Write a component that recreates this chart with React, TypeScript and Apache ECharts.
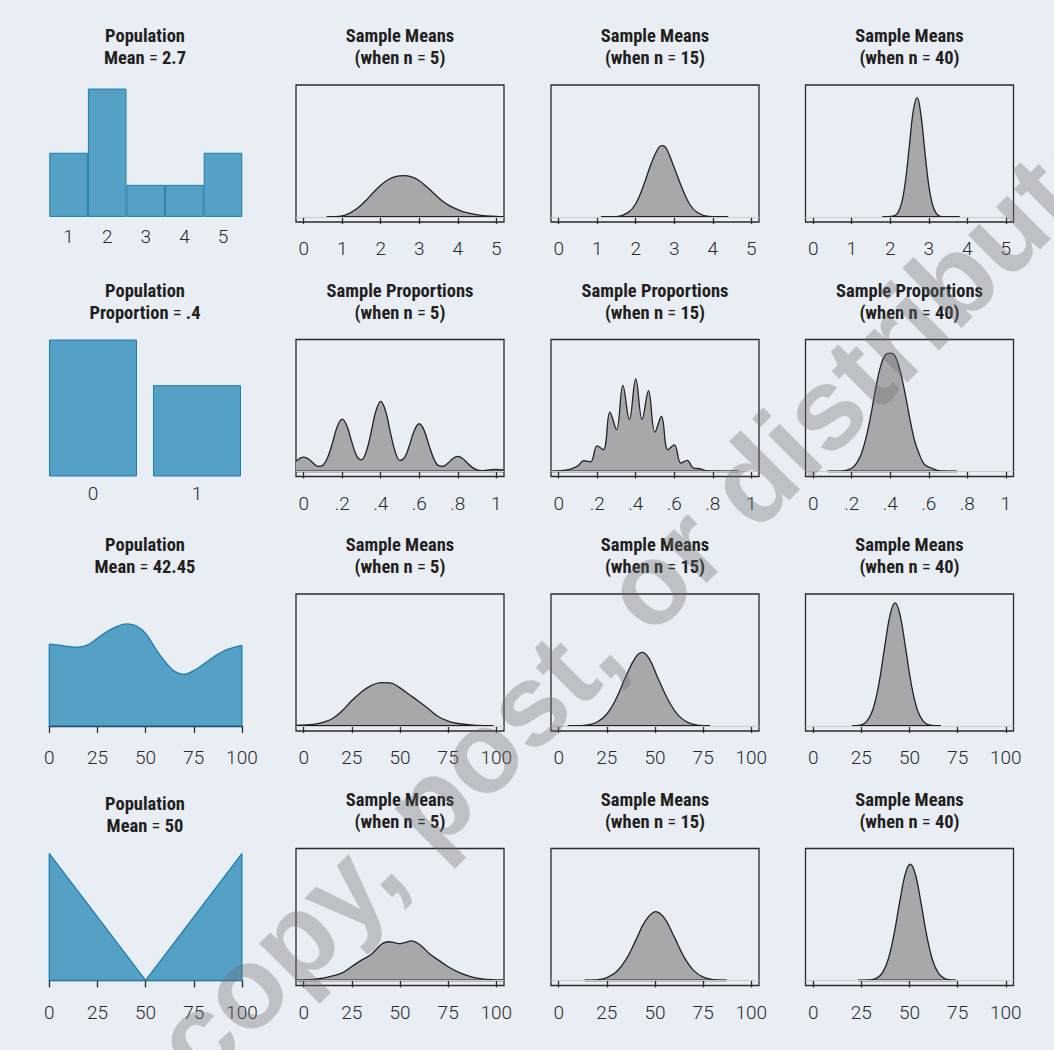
import React, { useEffect, useRef } from 'react';
import * as echarts from 'echarts';

const W = 1054;
const H = 1050;

// ---------- Column 1: populations ----------
const popBarsCats = ['1', '2', '3', '4', '5'];
const popBarsProb = [0.2, 0.4, 0.1, 0.1, 0.2];

const popPropCats = ['0', '1'];
const popPropProb = [0.6, 0.4];

const pop3X = [0, 5, 10, 15, 20, 25, 30, 35, 40, 45, 50, 55, 60, 65, 70, 75, 80, 85, 90, 95, 100];
const pop3Y = [0.644, 0.637, 0.626, 0.621, 0.639, 0.691, 0.744, 0.783, 0.804, 0.79, 0.73, 0.613, 0.509, 0.43, 0.407, 0.436, 0.485, 0.54, 0.587, 0.616, 0.634];

const pop4X = [0, 50, 100];
const pop4Y = [1, 0, 1];

// ---------- Row 1: sample means, population 1..5 ----------
const means1X5 = [0.6, 1.0, 1.2, 1.4, 1.6, 1.8, 2.0, 2.2, 2.4, 2.6, 2.8, 3.0, 3.2, 3.4, 3.6, 3.8, 4.0, 4.2, 4.6, 5.0, 5.2];
const means1Y5 = [0, 0.008, 0.03, 0.07, 0.125, 0.19, 0.25, 0.295, 0.32, 0.325, 0.315, 0.285, 0.235, 0.18, 0.125, 0.085, 0.058, 0.036, 0.012, 0.004, 0.002];
const means1X15 = [1.1, 1.5, 1.8, 2.0, 2.2, 2.4, 2.6, 2.7, 2.8, 3.0, 3.2, 3.4, 3.6, 3.9, 4.4];
const means1Y15 = [0, 0.003, 0.034, 0.104, 0.245, 0.42, 0.548, 0.562, 0.537, 0.388, 0.23, 0.1, 0.035, 0.004, 0];
const means1X40 = [1.8, 2.1, 2.2, 2.3, 2.4, 2.5, 2.6, 2.7, 2.8, 2.9, 3.0, 3.1, 3.2, 3.3, 3.5, 3.8];
const means1Y40 = [0, 0.008, 0.034, 0.114, 0.293, 0.571, 0.841, 0.94, 0.796, 0.511, 0.249, 0.092, 0.026, 0.005, 0, 0];

// ---------- Row 2: sample proportions ----------
const prop2X5 = [-0.04, 0, 0.025, 0.05, 0.075, 0.1, 0.125, 0.15, 0.175, 0.2, 0.225, 0.25, 0.275, 0.3, 0.325, 0.35, 0.375, 0.4, 0.425, 0.45, 0.475, 0.5, 0.525, 0.55, 0.575, 0.6, 0.625, 0.65, 0.675, 0.7, 0.725, 0.75, 0.775, 0.8, 0.825, 0.85, 0.875, 0.9, 0.925, 0.95, 0.975, 1.0, 1.04];
const prop2Y5 = [0.08, 0.113, 0.098, 0.065, 0.04, 0.049, 0.112, 0.229, 0.356, 0.412, 0.356, 0.231, 0.123, 0.091, 0.157, 0.308, 0.477, 0.552, 0.477, 0.308, 0.156, 0.087, 0.113, 0.211, 0.325, 0.376, 0.325, 0.209, 0.103, 0.046, 0.041, 0.067, 0.102, 0.118, 0.102, 0.066, 0.032, 0.013, 0.007, 0.0095, 0.014, 0.016, 0.011];
const prop2X15 = [-0.04, 0.035, 0.065, 0.1, 0.13, 0.165, 0.2, 0.232, 0.266, 0.3, 0.333, 0.367, 0.4, 0.433, 0.466, 0.5, 0.533, 0.567, 0.6, 0.635, 0.667, 0.7, 0.733, 0.77, 0.85, 0.934];
const prop2Y15 = [0, 0.01, 0.02, 0.045, 0.084, 0.075, 0.202, 0.17, 0.468, 0.33, 0.678, 0.41, 0.73, 0.41, 0.636, 0.31, 0.433, 0.17, 0.21, 0.066, 0.087, 0.026, 0.021, 0.005, 0.001, 0];
const prop2X40 = [0.075, 0.15, 0.2, 0.225, 0.25, 0.275, 0.3, 0.325, 0.35, 0.375, 0.4, 0.425, 0.45, 0.475, 0.5, 0.525, 0.55, 0.575, 0.6, 0.65, 0.7, 0.745];
const prop2Y40 = [0, 0.003, 0.025, 0.065, 0.14, 0.27, 0.45, 0.66, 0.83, 0.92, 0.932, 0.91, 0.8, 0.63, 0.43, 0.25, 0.14, 0.06, 0.035, 0.007, 0.001, 0];

// ---------- Row 3: sample means, population mean 42.45 ----------
const means3X5 = [-4, 5, 10, 15, 20, 25, 30, 35, 40, 45, 50, 55, 60, 65, 70, 75, 80, 90, 98.5];
const means3Y5 = [0.005, 0.012, 0.028, 0.058, 0.12, 0.2, 0.268, 0.318, 0.342, 0.34, 0.3, 0.245, 0.19, 0.132, 0.072, 0.038, 0.019, 0.004, 0];
const means3X15 = [4.7, 10, 15, 20, 25, 30, 35, 40, 43.5, 47, 52, 57, 62, 67, 72, 78.6];
const means3Y15 = [0, 0.0015, 0.008, 0.031, 0.094, 0.22, 0.395, 0.543, 0.58, 0.53, 0.36, 0.2, 0.085, 0.028, 0.007, 0];
const means3X40 = [20.3, 25, 28, 31, 34, 37, 40, 42.5, 45, 48, 51, 54, 57, 60, 66.3];
const means3Y40 = [0, 0.009, 0.04, 0.13, 0.323, 0.612, 0.882, 0.97, 0.882, 0.612, 0.323, 0.13, 0.04, 0.009, 0];

// ---------- Row 4: sample means, population mean 50 ----------
const means4X5 = [-4, 0, 5, 10, 15, 20, 25, 30, 35, 38, 41, 44, 47, 50, 53, 56, 59, 62, 65, 70, 75, 80, 85, 90, 95, 100, 104];
const means4Y5 = [0.002, 0.004, 0.009, 0.018, 0.035, 0.06, 0.11, 0.16, 0.205, 0.25, 0.292, 0.305, 0.298, 0.29, 0.3, 0.312, 0.295, 0.26, 0.215, 0.16, 0.108, 0.068, 0.038, 0.018, 0.008, 0.003, 0.002];
const means4X15 = [13.4, 20, 25, 30, 35, 40, 45, 50.4, 55, 60, 65, 70, 75, 80, 87.3];
const means4Y15 = [0, 0.005, 0.022, 0.068, 0.166, 0.316, 0.469, 0.543, 0.489, 0.343, 0.187, 0.079, 0.026, 0.007, 0];
const means4X40 = [23.4, 30, 33, 36, 39, 42, 45, 48, 50.4, 53, 56, 59, 62, 65, 68, 71, 74.2];
const means4Y40 = [0, 0.004, 0.018, 0.062, 0.169, 0.366, 0.627, 0.85, 0.916, 0.839, 0.609, 0.35, 0.159, 0.057, 0.016, 0.004, 0];

// ---------- Tick labels ----------
const ticksMeans5 = [0, 1, 2, 3, 4, 5];
const labelsMeans5 = ['0', '1', '2', '3', '4', '5'];
const ticksProp = [0, 0.2, 0.4, 0.6, 0.8, 1];
const labelsProp = ['0', '.2', '.4', '.6', '.8', '1'];
const ticks100 = [0, 25, 50, 75, 100];
const labels100 = ['0', '25', '50', '75', '100'];

// ---------- Titles ----------
const titleLine1 = [
  ['Population', 'Sample Means', 'Sample Means', 'Sample Means'],
  ['Population', 'Sample Proportions', 'Sample Proportions', 'Sample Proportions'],
  ['Population', 'Sample Means', 'Sample Means', 'Sample Means'],
  ['Population', 'Sample Means', 'Sample Means', 'Sample Means'],
];
const titleLine2 = [
  ['Mean = 2.7', '(when n = 5)', '(when n = 15)', '(when n = 40)'],
  ['Proportion = .4', '(when n = 5)', '(when n = 15)', '(when n = 40)'],
  ['Mean = 42.45', '(when n = 5)', '(when n = 15)', '(when n = 40)'],
  ['Mean = 50', '(when n = 5)', '(when n = 15)', '(when n = 40)'],
];

const watermarkText = 'copy, post, or distribute';

// ---------- Layout & style ----------
const colLeft = [41, 296, 551, 805.5];
const boxW = 208;
const rowTop = [85, 339.5, 594, 848.5];
const boxH = 137;

const BG = '#e9eef5';
const BLUE = '#55a0c5';
const BLUE_EDGE = '#1f7eab';
const GRAY = '#a7a8aa';
const INK = '#222222';
const FONT_TICK = 'Roboto, "Liberation Sans", Arial, sans-serif';
const FONT_TITLE = '"Liberation Sans Narrow", "Arial Narrow", "Roboto Condensed", "DejaVu Sans Condensed", sans-serif';

const tickText = { color: '#2a2a2a', fontSize: 19, fontFamily: FONT_TICK, fontWeight: 300 as any };

function pairs(xs: number[], ys: number[]) {
  return xs.map((x, i) => [x, ys[i]]);
}

function buildOption() {
  const grid: any[] = [];
  const xAxis: any[] = [];
  const yAxis: any[] = [];
  const series: any[] = [];
  const graphic: any[] = [];

  const rowsSpec = [
    { min: -0.2, max: 5.2, ticks: ticksMeans5, labels: labelsMeans5, panels: [[means1X5, means1Y5], [means1X15, means1Y15], [means1X40, means1Y40]] },
    { min: -0.04, max: 1.04, ticks: ticksProp, labels: labelsProp, panels: [[prop2X5, prop2Y5], [prop2X15, prop2Y15], [prop2X40, prop2Y40]] },
    { min: -4, max: 104, ticks: ticks100, labels: labels100, panels: [[means3X5, means3Y5], [means3X15, means3Y15], [means3X40, means3Y40]] },
    { min: -4, max: 104, ticks: ticks100, labels: labels100, panels: [[means4X5, means4Y5], [means4X15, means4Y15], [means4X40, means4Y40]] },
  ];

  // sampling panels
  rowsSpec.forEach((rs, r) => {
    rs.panels.forEach(([xs, ys], k) => {
      const c = k + 1;
      const i = grid.length;
      grid.push({
        left: colLeft[c], top: rowTop[r], width: boxW, height: boxH,
        show: true, borderColor: '#2a2a2a', borderWidth: 1.3, backgroundColor: 'transparent',
      });
      xAxis.push({
        gridIndex: i, type: 'value', min: rs.min, max: rs.max,
        axisLine: { show: false },
        splitLine: { show: false },
        axisTick: { show: true, customValues: rs.ticks, length: 7, inside: false, lineStyle: { color: '#2a2a2a', width: 1.3 } },
        axisLabel: {
          show: true, customValues: rs.ticks, margin: 17, ...tickText,
          formatter: (v: number) => {
            const idx = rs.ticks.findIndex((t) => Math.abs(t - v) < 1e-9);
            return idx >= 0 ? rs.labels[idx] : '';
          },
        },
      });
      yAxis.push({ gridIndex: i, type: 'value', min: -0.04, max: 1.04, show: false, splitLine: { show: false } });
      series.push({
        type: 'line', xAxisIndex: i, yAxisIndex: i, data: pairs(xs, ys),
        smooth: 0.4, symbol: 'none', z: 2,
        lineStyle: { color: INK, width: 1.3 },
        areaStyle: { color: GRAY, opacity: 1 },
        markLine: {
          silent: true, symbol: ['none', 'none'], label: { show: false },
          lineStyle: { color: '#c8cacd', width: 1.2, type: 'solid' },
          data: [{ yAxis: 0 }],
        },
      });
      series.push({
        type: 'line', xAxisIndex: i, yAxisIndex: i,
        data: [[xs[0], 0], [xs[xs.length - 1], 0]],
        symbol: 'none', z: 3, lineStyle: { color: INK, width: 1.8 },
      });
    });
  });

  // population: discrete 1..5
  {
    const i = grid.length;
    grid.push({ left: 49.3, top: rowTop[0], width: 193, height: boxH });
    xAxis.push({
      gridIndex: i, type: 'category', data: popBarsCats,
      axisLine: { show: false }, axisTick: { show: false },
      axisLabel: { interval: 0, margin: 5, ...tickText },
    });
    yAxis.push({ gridIndex: i, type: 'value', min: -0.0158, max: 0.4111, show: false, splitLine: { show: false } });
    series.push({
      type: 'bar', xAxisIndex: i, yAxisIndex: i, data: popBarsProb, barCategoryGap: '0%',
      itemStyle: { color: BLUE, borderColor: BLUE_EDGE, borderWidth: 1 },
    });
  }
  // population: proportion
  {
    const i = grid.length;
    grid.push({ left: colLeft[0], top: rowTop[1], width: boxW, height: boxH });
    xAxis.push({
      gridIndex: i, type: 'category', data: popPropCats,
      axisLine: { show: false }, axisTick: { show: false },
      axisLabel: { interval: 0, margin: 7, ...tickText },
    });
    yAxis.push({ gridIndex: i, type: 'value', min: 0, max: 0.6, show: false, splitLine: { show: false } });
    series.push({
      type: 'bar', xAxisIndex: i, yAxisIndex: i, data: popPropProb, barWidth: 88,
      itemStyle: { color: BLUE, borderColor: BLUE_EDGE, borderWidth: 1 },
    });
  }
  // population: continuous curves
  [[pop3X, pop3Y, 2, 0.4], [pop4X, pop4Y, 3, 0]].forEach(([xs, ys, r, sm]: any) => {
    const i = grid.length;
    grid.push({ left: 49.3, top: rowTop[r], width: 192.6, height: boxH });
    xAxis.push({
      gridIndex: i, type: 'value', min: 0, max: 100, interval: 25,
      axisLine: { show: true, lineStyle: { color: '#2a2a2a', width: 1.3 } },
      splitLine: { show: false },
      axisTick: { show: true, length: 7, lineStyle: { color: '#2a2a2a', width: 1.3 } },
      axisLabel: { margin: 17, ...tickText },
    });
    yAxis.push({ gridIndex: i, type: 'value', min: -0.04, max: 1.04, show: false, splitLine: { show: false } });
    series.push({
      type: 'line', xAxisIndex: i, yAxisIndex: i, data: pairs(xs, ys), smooth: sm,
      symbol: 'none', lineStyle: { color: BLUE_EDGE, width: 1.3 },
      areaStyle: { color: BLUE, opacity: 1 }, z: 2,
    });
    series.push({
      type: 'line', xAxisIndex: i, yAxisIndex: i,
      data: [[xs[0], ys[0]], [xs[0], 0], [xs[xs.length - 1], 0], [xs[xs.length - 1], ys[ys.length - 1]]],
      symbol: 'none', lineStyle: { color: BLUE_EDGE, width: 1.3 }, z: 3,
    });
  });

  // titles
  const richStyle = {
    b: { fontFamily: FONT_TITLE, fontWeight: 'bold', fontSize: 18.5, fill: '#231f20', color: '#231f20' },
    r: { fontFamily: FONT_TITLE, fontWeight: 'normal', fontSize: 18.5, fill: '#231f20', color: '#231f20' },
  };
  for (let r = 0; r < 4; r++) {
    for (let c = 0; c < 4; c++) {
      const cx = colLeft[c] + boxW / 2;
      const dy = r === 3 && c === 0 ? 4 : 0;
      const y1 = 36 + 254.5 * r + dy;
      const y2 = 58 + 254.5 * r + dy;
      const l2 = titleLine2[r][c];
      const parts = l2.split('=');
      const rich2 = parts.length === 2 ? `{b|${parts[0]}}{r|=}{b|${parts[1]}}` : `{b|${l2}}`;
      graphic.push({
        type: 'text', x: cx, y: y1, silent: true,
        style: { text: `{b|${titleLine1[r][c]}}`, rich: richStyle, textAlign: 'center', textVerticalAlign: 'middle' },
      });
      graphic.push({
        type: 'text', x: cx, y: y2, silent: true,
        style: { text: rich2, rich: richStyle, textAlign: 'center', textVerticalAlign: 'middle' },
      });
    }
  }

  // watermark
  graphic.push({
    type: 'text', x: 173, y: 1060, rotation: (45 * Math.PI) / 180, silent: true, z: 100,
    style: {
      text: watermarkText, fontSize: 116, fontWeight: 'bold', fontFamily: '"Liberation Sans", Arial, sans-serif',
      fill: 'rgba(110,110,110,0.35)', textAlign: 'left', textVerticalAlign: 'middle',
    },
  });

  return {
    animation: false,
    backgroundColor: BG,
    grid, xAxis, yAxis, series, graphic,
  };
}

export default function App() {
  const ref = useRef<HTMLDivElement>(null);
  useEffect(() => {
    document.body.style.margin = '0';
    document.body.style.background = BG;
    const chart = echarts.init(ref.current as HTMLDivElement, undefined, { renderer: 'svg', width: W, height: H });
    chart.setOption(buildOption() as any);
    return () => chart.dispose();
  }, []);
  return <div ref={ref} style={{ width: W, height: H }} />;
}
